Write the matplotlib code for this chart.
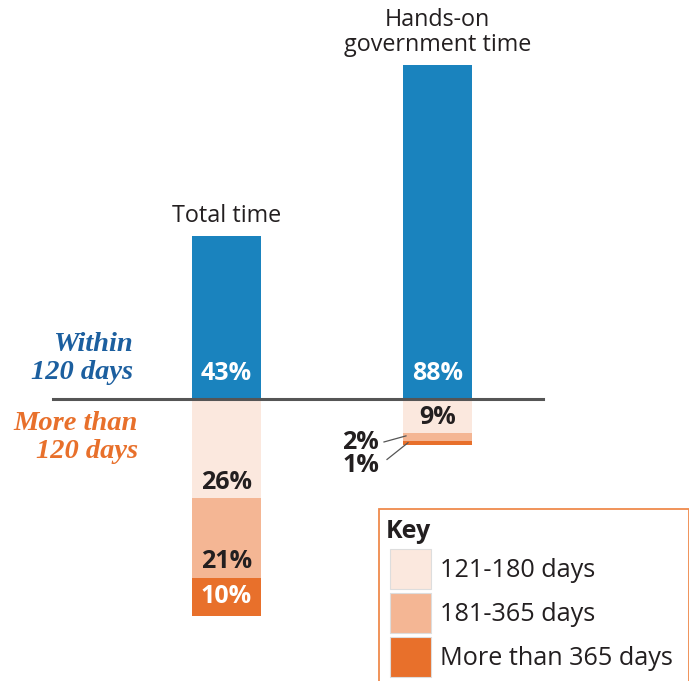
import matplotlib
matplotlib.use("Agg")
import matplotlib.pyplot as plt
from matplotlib.patches import Rectangle

# Shares of cases, in percent
groups = ["Total time", "Hands-on\ngovernment time"]
within_120 = [43, 88]
days_121_180 = [26, 9]
days_181_365 = [21, 2]
days_over_365 = [10, 1]
key_labels = ["121-180 days", "181-365 days", "More than 365 days"]

BLUE = "#1a83be"
LIGHT = "#fbe8de"
MID = "#f4b694"
DARK = "#e8702b"
ORANGE_TXT = "#e8702b"
BLUE_TXT = "#1c5f9f"
INK = "#231f20"

plt.rcParams["font.family"] = ["Open Sans", "DejaVu Sans"]

fig = plt.figure(figsize=(6.89, 6.81), dpi=100)
ax = fig.add_axes([0, 0, 1, 1])
ax.set_xlim(0, 689)
ax.set_ylim(-74.2, 105)
ax.axis("off")

centers = [226.5, 437.5]
width = 69
PCT = 18

for i, c in enumerate(centers):
    # upward bar: within 120 days
    ax.bar(c, within_120[i], width=width, bottom=0, color=BLUE, zorder=2)
    ax.text(c, 6.6, f"{within_120[i]}%", ha="center", va="center",
            color="white", fontsize=PCT, fontweight="bold", zorder=4)
    # downward stacked bars
    b0 = 0
    for vals, col in [(days_121_180, LIGHT), (days_181_365, MID), (days_over_365, DARK)]:
        ax.bar(c, -vals[i], width=width, bottom=b0, color=col, zorder=2)
        b0 -= vals[i]
    # group titles
    ax.text(c, within_120[i] + 2.0, groups[i], ha="center", va="bottom",
            fontsize=16.8, color=INK, linespacing=1.05)

# labels inside the "Total time" stack
c = centers[0]
ax.text(c, -days_121_180[0] + 4.0, f"{days_121_180[0]}%", ha="center", va="center",
        fontsize=PCT, fontweight="bold", color=INK, zorder=4)
ax.text(c, -days_121_180[0] - days_181_365[0] + 4.2, f"{days_181_365[0]}%", ha="center",
        va="center", fontsize=PCT, fontweight="bold", color=INK, zorder=4)
ax.text(c, -days_121_180[0] - days_181_365[0] - days_over_365[0] / 2 + 0.1,
        f"{days_over_365[0]}%", ha="center", va="center", fontsize=PCT,
        fontweight="bold", color="white", zorder=4)

# labels for the "Hands-on" stack
c = centers[1]
ax.text(c, -days_121_180[1] / 2 - 0.4, f"{days_121_180[1]}%", ha="center", va="center",
        fontsize=PCT, fontweight="bold", color=INK, zorder=4)
y2 = -days_121_180[1] - days_181_365[1] / 2
y1 = -days_121_180[1] - days_181_365[1] - days_over_365[1] / 2
ax.text(379, -11.4, f"{days_181_365[1]}%", ha="right", va="center",
        fontsize=PCT, fontweight="bold", color=INK, zorder=4)
ax.text(379, -17.6, f"{days_over_365[1]}%", ha="right", va="center",
        fontsize=PCT, fontweight="bold", color=INK, zorder=4)
ax.plot([384, c - width / 2 + 3], [-11.3, y2 + 0.3], color="#555555", lw=0.9, zorder=5)
ax.plot([387, c - width / 2 + 5], [-15.9, y1], color="#555555", lw=0.9, zorder=5)

# baseline
ax.plot([53, 543], [0, 0], color="#555555", lw=2.2, zorder=3)

# side annotations
ax.text(133, 10.6, "Within\n120 days", ha="right", va="center", fontsize=20.5,
        family="Liberation Serif", style="italic", fontweight="bold",
        color=BLUE_TXT, linespacing=1.15)
ax.text(138, -10.2, "More than\n120 days", ha="right", va="center", fontsize=20.5,
        family="Liberation Serif", style="italic", fontweight="bold",
        color=ORANGE_TXT, linespacing=1.15)

# key box
def py(p):
    return (399 - p) / 3.8

ax.add_patch(Rectangle((378.5, py(690)), 310, py(508.5) - py(690),
                       facecolor="white", edgecolor="#ef8a4c", lw=1.3, zorder=6))
ax.text(386, py(531), "Key", ha="left", va="center", fontsize=18,
        fontweight="bold", color=INK, zorder=7)
swatch_tops = [549, 593, 637]
for lab, col, top in zip(key_labels, [LIGHT, MID, DARK], swatch_tops):
    ax.add_patch(Rectangle((389.5, py(top + 40)), 41, py(top) - py(top + 40),
                           facecolor=col, edgecolor="#dddddd", lw=0.8, zorder=7))
    ax.text(440, py(top + 21), lab, ha="left", va="center", fontsize=18.2,
            color=INK, zorder=7)

fig.savefig("out.png", dpi=100)
